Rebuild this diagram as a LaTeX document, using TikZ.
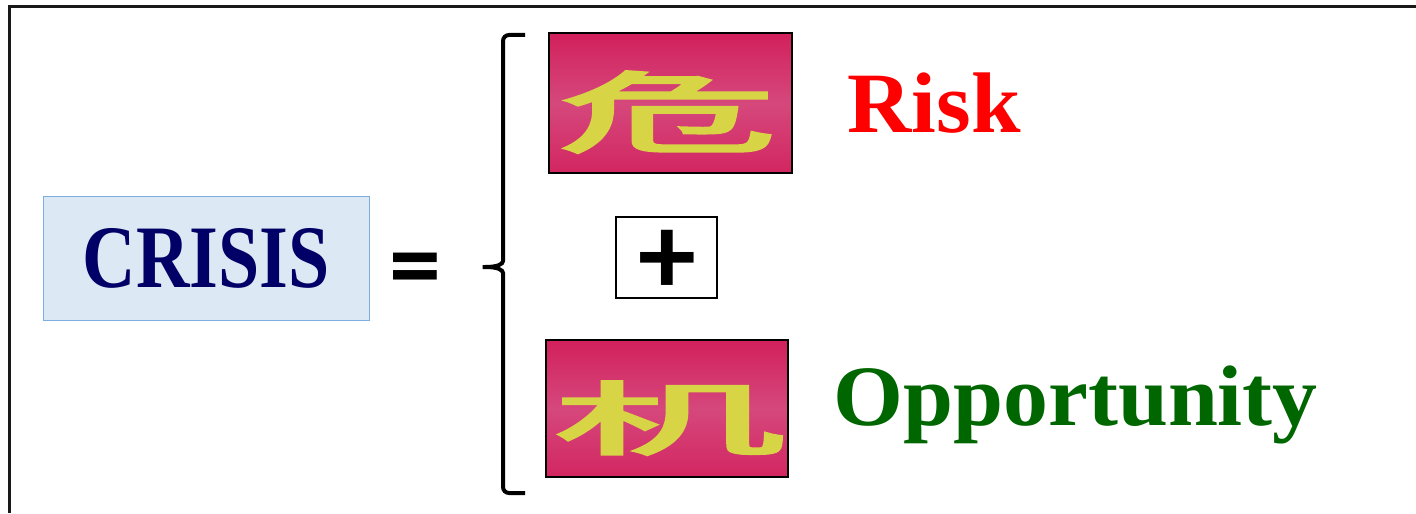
\documentclass[tikz,border=0pt]{standalone}
\usepackage{fontspec}
\usepackage{graphicx}
\setmainfont{Liberation Serif}
\newfontfamily\calib{Carlito}
\newfontfamily\cjk{Noto Sans CJK SC}[FakeBold=2.5]
\usetikzlibrary{positioning}
\definecolor{crisnavy}{HTML}{000066}
\definecolor{crisfill}{HTML}{DDE8F5}
\definecolor{crisedge}{HTML}{7DAEE2}
\definecolor{riskred}{HTML}{FF0000}
\definecolor{oppgreen}{HTML}{006600}
\definecolor{tilered}{HTML}{D2205C}
\definecolor{tilepink}{HTML}{D5487C}
\definecolor{glyphyellow}{HTML}{D7D446}
\newcommand{\squeeze}[2]{\scalebox{#1}[1]{#2}}
\tikzset{
  word/.style  = {inner sep=0pt, font=\fontsize{43}{50}\selectfont\bfseries, text=#1},
  tile/.style  = {rectangle, draw=black, line width=0.6pt, inner sep=0pt,
                  minimum width=121.5pt, minimum height=70pt,
                  top color=tilered, bottom color=tilered!85!tilepink, middle color=tilepink},
  glyph/.style = {inner sep=0pt, text=glyphyellow, font=\fontsize{#1}{#1}\cjk},
  sym/.style   = {inner sep=0pt, font=\fontsize{#1}{#1}\calib\bfseries},
  brace/.style = {line width=2pt, rounded corners=3pt},
}

\begin{document}
\begin{tikzpicture}[x=0.5pt, y=0.5pt]
  \useasboundingbox (0,0) rectangle (1416,-513);
  \draw[line width=1.5pt, draw=black!90] (9,-513) -- (9,-7) -- (1416,-7);

  \node[draw=crisedge, fill=crisfill, line width=0.5pt, inner sep=0pt,
        minimum width=163pt, minimum height=61.5pt, text=crisnavy,
        font=\fontsize{44.6}{50}\selectfont\bfseries] (crisis) at (206,-258.5) {\squeeze{0.83}{CRISIS}};
  \node[sym=52, anchor=base] (eq) at (415,-299) {=};

  % the two halves
  \draw[brace] (525,-35) -- (503,-35) -- (503,-255)
     .. controls (503,-264) and (498,-267) .. (479,-267)
     .. controls (498,-267) and (503,-270) .. (503,-279) -- (503,-493) -- (525,-493);

  \node[tile] (wei) at (670.5,-103) {};
  \node[glyph=44] (weichar) at (668,-112) {\squeeze{2.5}{危}};
  \node[draw, line width=1pt, minimum width=50.5pt, minimum height=40.5pt] (plusbox) at (666.5,-257.5) {};
  \node[sym=58] (plus) at (667,-262) {+};
  \node[tile, minimum width=121pt, minimum height=68.5pt] (ji) at (667,-408.5) {};
  \node[glyph=40] (jichar) at (669,-418) {\squeeze{2.9}{机}};

  \node[word=riskred, anchor=base west] (risk) at (847,-133) {\squeeze{1.035}{Risk}};
  \node[word=oppgreen, anchor=base west] (opp) at (833,-425) {\squeeze{1.045}{Opportunity}};
\end{tikzpicture}
\end{document}
